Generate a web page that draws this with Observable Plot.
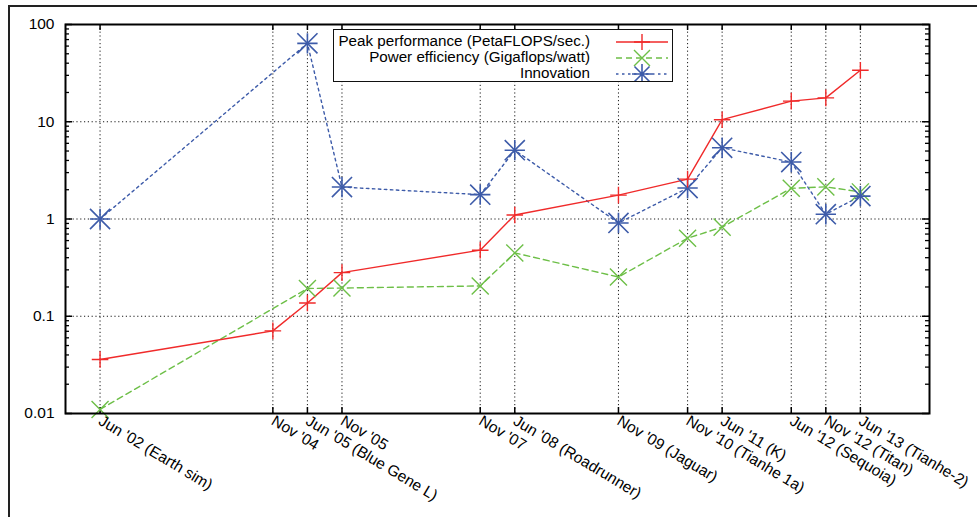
<!DOCTYPE html>
<html><head><meta charset="utf-8">
<script src="https://cdn.jsdelivr.net/npm/d3@7"></script>
<script src="https://cdn.jsdelivr.net/npm/@observablehq/plot@0.6"></script>
<style>
html,body{margin:0;padding:0;background:#fff;}
#wrap{position:relative;width:977px;height:517px;overflow:hidden;font-family:"Liberation Sans",Arial,sans-serif;}
#outer{position:absolute;left:8px;top:5px;width:1000px;height:600px;border-top:2.5px solid #222;border-left:2.5px solid #222;pointer-events:none;}
#legend{position:absolute;left:333px;top:29px;width:338px;height:51px;border:1.5px solid #111;background:#fff;font-size:15.2px;color:#000;}
.row{position:absolute;right:82px;white-space:nowrap;line-height:16px;}
#legend svg{position:absolute;left:280px;top:0;}
</style></head>
<body><div id="wrap"><div id="outer"></div></div>
<script>
// semi-annual index: Jun '02 = 0, Nov '02 = 1, ...
const positions = [0, 5, 6, 7, 11, 12, 15, 17, 18, 20, 21, 22];
const tickLabels = ["Jun '02 (Earth sim)", "Nov '04", "Jun '05 (Blue Gene L)", "Nov '05", "Nov '07", "Jun '08 (Roadrunner)", "Nov '09 (Jaguar)", "Nov '10 (Tianhe 1a)", "Jun '11 (K)", "Jun '12 (Sequoia)", "Nov '12 (Titan)", "Jun '13 (Tianhe-2)"];
const peak = [0.0359, 0.0707, 0.137, 0.281, 0.478, 1.1, 1.76, 2.57, 10.5, 16.3, 17.6, 33.9];
const effPos = [0, 6, 7, 11, 12, 15, 17, 18, 20, 21, 22];
const efficiency = [0.011, 0.193, 0.195, 0.205, 0.448, 0.253, 0.635, 0.825, 2.07, 2.14, 1.9];
const innovPos = [0, 6, 7, 11, 12, 15, 17, 18, 20, 21, 22];
const innovation = [1, 64, 2.13, 1.78, 5.1, 0.91, 2.08, 5.4, 3.85, 1.12, 1.72];
const yMajor = [0.01, 0.1, 1, 10, 100];
const seriesNames = ["Peak performance (PetaFLOPS/sec.)", "Power efficiency (Gigaflops/watt)", "Innovation"];

const RED = "#f02a2a", GREEN = "#6dbf47", BLUE = "#3d5ba9";
const peakData = positions.map((x, i) => ({x, y: peak[i]}));
const effData = effPos.map((x, i) => ({x, y: efficiency[i]}));
const innData = innovPos.map((x, i) => ({x, y: innovation[i]}));
const yMinor = [];
for (let e = -2; e < 2; e++) for (let m = 2; m <= 9; m++) yMinor.push(m * Math.pow(10, e));

const W = 977, H = 517, mL = 65, mR = 48, mT = 24, mB = 104;
const pw = W - mL - mR, ph = H - mT - mB;
const labelOf = new Map(positions.map((p, i) => [p, tickLabels[i]]));
const gridStyle = {stroke: "#000", strokeWidth: 1, strokeDasharray: "1.2,2.6", strokeOpacity: 0.9};

const chart = Plot.plot({
  width: W, height: H,
  marginLeft: mL, marginRight: mR, marginTop: mT, marginBottom: mB,
  style: {fontFamily: "'Liberation Sans', Arial, sans-serif", fontSize: "15.5px", color: "#000", background: "transparent"},
  x: {domain: [-1, 24]},
  y: {type: "log", domain: [0.01, 100]},
  marks: [
    Plot.ruleX(positions, {x: d => d, ...gridStyle}),
    Plot.ruleY(yMajor.slice(1, -1), {y: d => d, ...gridStyle}),
    // inward ticks
    Plot.tickY(yMinor, {y: d => d, insetRight: pw - 4, stroke: "#000", strokeWidth: 1.3}),
    Plot.tickY(yMinor, {y: d => d, insetLeft: pw - 4, stroke: "#000", strokeWidth: 1.3}),
    Plot.tickY(yMajor, {y: d => d, insetRight: pw - 7, stroke: "#000", strokeWidth: 1.5}),
    Plot.tickY(yMajor, {y: d => d, insetLeft: pw - 7, stroke: "#000", strokeWidth: 1.5}),
    Plot.tickX(positions, {x: d => d, insetBottom: ph - 6, stroke: "#000", strokeWidth: 1.5}),
    Plot.tickX(positions, {x: d => d, insetTop: ph - 6, stroke: "#000", strokeWidth: 1.5}),
    // series
    Plot.line(innData, {x: "x", y: "y", stroke: BLUE, strokeWidth: 1.4, strokeDasharray: "2.5,3.5"}),
    Plot.line(effData, {x: "x", y: "y", stroke: GREEN, strokeWidth: 1.4, strokeDasharray: "6,4"}),
    Plot.line(peakData, {x: "x", y: "y", stroke: RED, strokeWidth: 1.4}),
    Plot.dot(effData, {x: "x", y: "y", symbol: "times", r: 7.8, stroke: GREEN, strokeWidth: 1.4}),
    Plot.dot(innData, {x: "x", y: "y", symbol: "plus", r: 6.6, stroke: BLUE, strokeWidth: 1.6}),
    Plot.dot(innData, {x: "x", y: "y", symbol: "times", r: 9.2, stroke: BLUE, strokeWidth: 1.6}),
    Plot.dot(peakData, {x: "x", y: "y", symbol: "plus", r: 5.4, stroke: RED, strokeWidth: 1.4}),
    Plot.frame({stroke: "#000", strokeWidth: 2}),
    Plot.axisY({ticks: yMajor, tickFormat: d => String(d), tickSize: 0, tickPadding: 11, fontSize: 15.5, label: null}),
    Plot.axisX({ticks: positions, tickFormat: d => labelOf.get(d), tickSize: 0, tickRotate: 31, tickPadding: 6, textAnchor: "start", fontSize: 15.5, label: null})
  ]
});
chart.style.position = "absolute";
chart.style.left = "0px";
chart.style.top = "0px";
document.getElementById("wrap").appendChild(chart);

// legend
const lg = document.createElement("div");
lg.id = "legend";
const styles = [
  {stroke: RED, dash: null},
  {stroke: GREEN, dash: "6,4"},
  {stroke: BLUE, dash: "2.5,3.5"}
];
const tops = [3, 19, 35];
let svg = `<svg width="58" height="51">`;
seriesNames.forEach((name, i) => {
  const r = document.createElement("div");
  r.className = "row"; r.style.top = tops[i] + "px"; r.textContent = name;
  lg.appendChild(r);
  const cy = tops[i] + 9, s = styles[i];
  svg += `<line x1="2" x2="54" y1="${cy}" y2="${cy}" stroke="${s.stroke}" stroke-width="1.4" ${s.dash ? `stroke-dasharray="${s.dash}"` : ""}/>`;
  const cx = 28;
  if (i === 0) svg += `<path d="M${cx-8},${cy}H${cx+8}M${cx},${cy-8}V${cy+8}" stroke="${s.stroke}" stroke-width="1.4"/>`;
  if (i === 1) svg += `<path d="M${cx-8},${cy-8}L${cx+8},${cy+8}M${cx-8},${cy+8}L${cx+8},${cy-8}" stroke="${s.stroke}" stroke-width="1.4"/>`;
  if (i === 2) svg += `<path d="M${cx-10},${cy}H${cx+10}M${cx},${cy-10}V${cy+10}M${cx-7.5},${cy-7.5}L${cx+7.5},${cy+7.5}M${cx-7.5},${cy+7.5}L${cx+7.5},${cy-7.5}" stroke="${s.stroke}" stroke-width="1.6"/>`;
});
svg += `</svg>`;
lg.insertAdjacentHTML("beforeend", svg);
document.getElementById("wrap").appendChild(lg);
</script>
</body></html>
